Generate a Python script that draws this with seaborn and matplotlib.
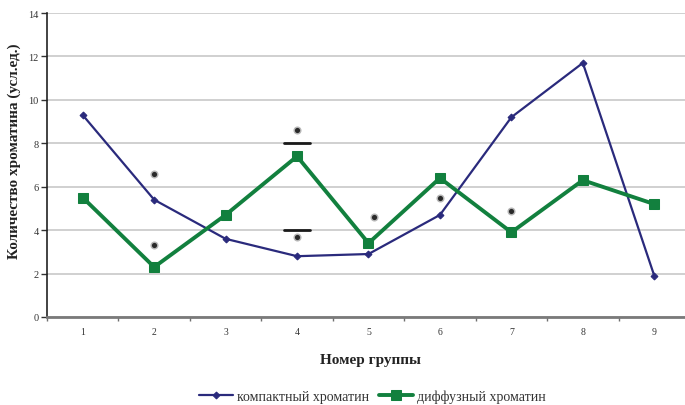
import numpy as np
import pandas as pd
import matplotlib
matplotlib.use("Agg")
import matplotlib.pyplot as plt
import seaborn as sns

groups = [1, 2, 3, 4, 5, 6, 7, 8, 9]
compact = [9.3, 5.4, 3.6, 2.8, 2.9, 4.7, 9.2, 11.7, 1.9]
diffuse = [5.5, 2.3, 4.7, 7.4, 3.4, 6.4, 3.9, 6.3, 5.2]

# significance marks (group, value) and bars at group 4
star_x = [2, 2, 4, 4, 5.07, 6, 7]
star_y = [6.6, 3.3, 8.6, 3.7, 4.6, 5.5, 4.9]
bar_x = [4, 4]
bar_y = [8.0, 4.0]

series_names = ["компактный хроматин", "диффузный хроматин"]
colors = ["#2a2a7c", "#12803e"]

sns.set_theme(style="white")
plt.rcParams["font.family"] = ["Liberation Serif", "DejaVu Serif"]

df = pd.DataFrame({
    "group": groups * 2,
    "value": compact + diffuse,
    "series": [series_names[0]] * len(groups) + [series_names[1]] * len(groups),
})

fig = plt.figure(figsize=(6.85, 4.06), dpi=100)
ax = fig.add_axes([47 / 685, 88 / 406, 643 / 685, 304 / 406])

for name, col, mk, ms, lw in [
    (series_names[0], colors[0], "D", 3.5, 1.6),
    (series_names[1], colors[1], "s", 7, 2.8),
]:
    sub = df[df["series"] == name]
    sns.lineplot(data=sub, x="group", y="value", ax=ax, color=col, lw=lw,
                 marker=mk, markersize=ms, markeredgecolor=col,
                 markerfacecolor=col, label=name, legend=False)

# soft dark dots for the significance marks
ax.scatter(star_x, star_y, marker="o", s=34, color="#9a9a9a", zorder=5,
           linewidths=0, alpha=0.7)
ax.scatter(star_x, star_y, marker="o", s=14, color="#2a2a2a", zorder=6,
           linewidths=0)
for bx, by in zip(bar_x, bar_y):
    ax.plot([bx - 0.18, bx + 0.18], [by, by], color="#1a1a1a", lw=2, zorder=5)

ax.set_xlim(0.5, 9.5)
ax.set_ylim(0, 14)
ax.set_yticks(np.arange(0, 15, 2))
ax.yaxis.grid(True, color="#c8c8c8", lw=1.2)
ax.set_axisbelow(True)

# category boundaries carry tick marks, centres carry the labels
ax.set_xticks(np.arange(0.5, 10, 1))
ax.set_xticklabels([])
ax.set_xticks(groups, minor=True)
ax.set_xticklabels([str(g) for g in groups], minor=True)
ax.tick_params(axis="x", which="major", direction="out", length=3, width=1,
               color="#707070", bottom=True)
ax.tick_params(axis="x", which="minor", length=0, pad=7, labelsize=7,
               labelcolor="#333333")
ax.tick_params(axis="y", direction="out", length=4, width=1, color="#333333",
               left=True, labelsize=7.5, labelcolor="#333333", pad=2)

for s in ["top", "right"]:
    ax.spines[s].set_visible(False)
ax.spines["left"].set_color("#222222")
ax.spines["left"].set_linewidth(1.2)
ax.spines["bottom"].set_color("#7a7a7a")
ax.spines["bottom"].set_linewidth(2)

ax.set_xlabel("Номер группы", fontsize=11, fontweight="bold", color="#222222")
ax.set_ylabel("Количество хроматина (усл.ед.)", fontsize=11,
              fontweight="bold", color="#222222")
ax.xaxis.set_label_coords((370 - 47) / 643, -(354 - 318) / 304)
ax.yaxis.set_label_coords(-(47 - 14) / 643, (318 - 151) / 304)
ax.yaxis.label.set_verticalalignment("center")

handles, labels = ax.get_legend_handles_labels()
leg = ax.legend(handles, labels, loc="center", ncol=2, frameon=False,
                bbox_to_anchor=((372 - 47) / 643, -(397 - 318) / 304),
                fontsize=10, handlelength=2.5, handletextpad=0.25,
                columnspacing=0.7)
for t in leg.get_texts():
    t.set_color("#333333")

fig.savefig("out.png", dpi=100)
